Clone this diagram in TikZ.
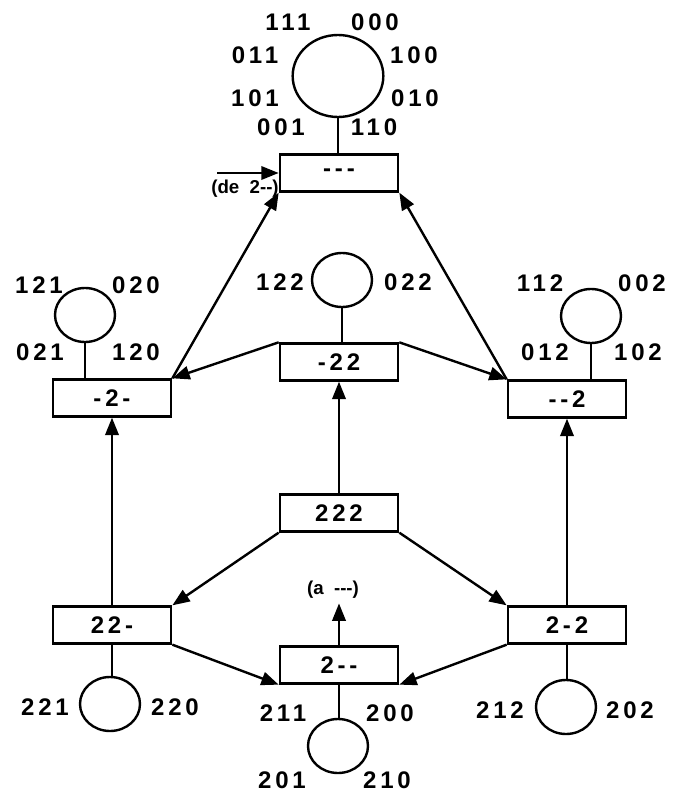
\documentclass[tikz,border=0pt]{standalone}
\usepackage{fontspec}
\newfontfamily\statefont[LetterSpace=16,Ligatures=TeXOff]{Liberation Sans}
\newfontfamily\notefont[Ligatures=TeXOff]{Liberation Sans}
\usetikzlibrary{shapes.geometric, arrows.meta, positioning}

\begin{document}
\begin{tikzpicture}[
    x=0.75pt, y=-0.75pt,
    every node/.style={font=\statefont\bfseries\fontsize{18}{20}\selectfont},
    statebox/.style={
        rectangle, draw, line width=2pt,
        minimum width=88.5pt, minimum height=27.5pt,
        inner sep=0pt
    },
    ring/.style={
        ellipse, draw, line width=1.8pt,
        minimum width=45pt, minimum height=40.5pt, inner sep=0pt
    },
    bigring/.style={ring, minimum width=68pt, minimum height=61.5pt},
    stem/.style={line width=1.6pt},
    arrow/.style={-{Triangle[length=13pt,width=10pt]}, line width=1.8pt},
    note/.style={font=\notefont\bfseries\fontsize{14}{16}\selectfont}
]
\useasboundingbox (0,0) rectangle (672,795);

% Top level
\node[statebox] (T) at (339,173) {---};
\node[bigring] (cT) at (338,76) {};
\draw[stem] (cT.south) -- (cT.south |- T.north);
\node (l111) at (288,22) {111};
\node (l000) at (375,22) {000};
\node (l011) at (255,55) {011};
\node (l100) at (414,55) {100};
\node (l101) at (255,98) {101};
\node (l010) at (415,98) {010};
\node (l001) at (281,127) {001};
\node (l110) at (374,127) {110};

\node[note] (denote) at (245,189) {(de\ \ 2--)};
\coordinate (dein) at (217,173);

% Middle level
\node[statebox] (L) at (112,398) {-2-};
\node[ring] (cL) at (85,315) {};
\draw[stem] (cL.south) -- (cL.south |- L.north);
\node (l121) at (39,285) {121};
\node (l020) at (136,285) {020};
\node (l021) at (40,352) {021};
\node (l120) at (136,352) {120};

\node[statebox] (M) at (339,362) {-22};
\node[ring] (cM) at (342,280) {};
\draw[stem] (cM.south) -- (cM.south |- M.north);
\node (l122) at (280,282) {122};
\node (l022) at (408,282) {022};

\node[statebox] (R) at (567,399) {--2};
\node[ring] (cR) at (591,316) {};
\draw[stem] (cR.south) -- (cR.south |- R.north);
\node (l112) at (540,283) {112};
\node (l002) at (642,283) {002};
\node (l012) at (545,352) {012};
\node (l102) at (638,352) {102};

% Bottom level
\node[statebox] (C) at (339,513) {222};

\node[statebox] (BL) at (112,625) {22-};
\node[ring] (cBL) at (110,704) {};
\draw[stem] (BL.south) -- (BL.south |- cBL.north);
\node (l221) at (45,707) {221};
\node (l220) at (175,707) {220};

\node[statebox] (BM) at (339,665) {2--};
\node[ring] (cBM) at (338,746) {};
\draw[stem] (BM.south) -- (BM.south |- cBM.north);
\node (l211) at (283,713) {211};
\node (l200) at (390,713) {200};
\node (l201) at (282,780) {201};
\node (l210) at (387,780) {210};

\node[note] (anote) at (333,590) {(a\ \ ---)};

\node[statebox] (BR) at (567,625) {2-2};
\node[ring] (cBR) at (566,707) {};
\draw[stem] (BR.south) -- (BR.south |- cBR.north);
\node (l212) at (500,710) {212};
\node (l202) at (630,710) {202};

% Connectors
\draw[arrow] (dein) -- (T.west);
\draw[arrow] (L.north east) -- (T.south west);
\draw[arrow] (R.north west) -- (T.south east);
\draw[arrow] (M.north west) -- (L.north east);
\draw[arrow] (M.north east) -- (R.north west);
\draw[arrow] (C.north) -- (M.south);
\draw[arrow] (BL.north) -- (L.south);
\draw[arrow] (BR.north) -- (R.south);
\draw[arrow] (C.south west) -- (BL.north east);
\draw[arrow] (C.south east) -- (BR.north west);
\draw[arrow] (BL.south east) -- (BM.south west);
\draw[arrow] (BR.south west) -- (BM.south east);
\draw[arrow] (BM.north) -- (BM.north |- anote.south);

\end{tikzpicture}
\end{document}
